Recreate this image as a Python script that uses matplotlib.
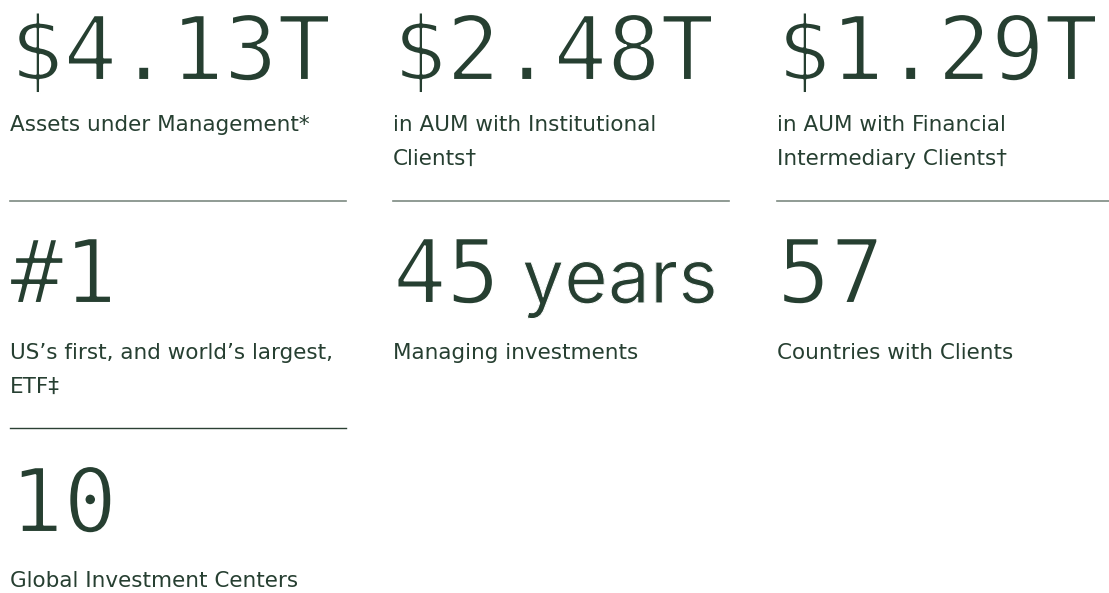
import matplotlib
matplotlib.use("Agg")
import matplotlib.pyplot as plt
import matplotlib.patheffects as pe

# stats shown on the page
values = ["$4.13T", "$2.48T", "$1.29T", "#1", "45 years", "57", "10"]
labels = [
    "Assets under Management*",
    "in AUM with Institutional\nClients\u2020",
    "in AUM with Financial\nIntermediary Clients\u2020",
    "US\u2019s first, and world\u2019s largest,\nETF\u2021",
    "Managing investments",
    "Countries with Clients",
    "Global Investment Centers",
]

green = "#263f31"
W, H = 1109, 593

fig = plt.figure(figsize=(W / 100, H / 100), dpi=100)
ax = fig.add_axes([0, 0, 1, 1])
ax.set_xlim(0, W)
ax.set_ylim(H, 0)
ax.axis("off")

col_x = [10, 393, 777]
col_end = [346, 729, 1109]
row_base = [80, 303, 532]
label_base = [131, 359, 587]
line_gap = 34
divider_y = [200.5, 428]
divider_col = ["#7d8a82", "#2b4133"]

# thin the heavy mono glyphs a little with a white outline drawn on top
thin = [pe.Normal(), pe.Stroke(linewidth=1.5, foreground="white")]

for i, (v, lab) in enumerate(zip(values, labels)):
    r, c = divmod(i, 3)
    x = col_x[c]
    y = row_base[r]
    num, _, word = v.partition(" ")
    t = ax.text(x, y, num, fontsize=64, family="DejaVu Sans Mono",
                color=green, va="baseline", ha="left", path_effects=thin)
    if word:
        # the unit word is set in a proportional face after the digits
        fig.canvas.draw()
        bb = t.get_window_extent()
        ax.text(bb.x1 + 22, y, word, fontsize=54, family="Inter",
                color=green, va="baseline", ha="left",
                path_effects=[pe.Normal(), pe.Stroke(linewidth=0.8, foreground="white")])
    for k, line in enumerate(lab.split("\n")):
        ax.text(x, label_base[r] + k * line_gap, line, fontsize=15.5,
                family="DejaVu Sans", color=green, va="baseline", ha="left")

# dividers under row 1 (all columns) and row 2 (first column only)
for c in range(3):
    ax.plot([col_x[c], col_end[c]], [divider_y[0]] * 2, color=divider_col[0], lw=1.2)
ax.plot([col_x[0], col_end[0]], [divider_y[1]] * 2, color=divider_col[1], lw=1.0)

fig.savefig("out.png", dpi=100, facecolor="white")
